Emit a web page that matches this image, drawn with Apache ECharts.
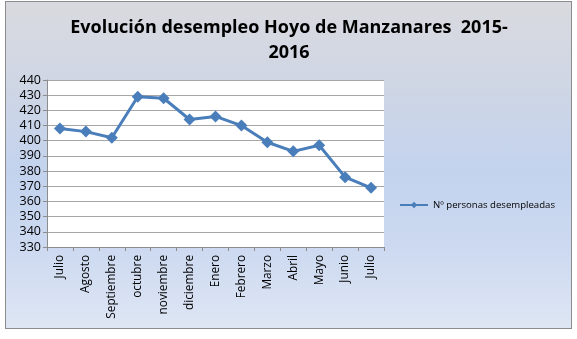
<!DOCTYPE html>
<html>
<head>
<meta charset="utf-8">
<script src="https://cdn.jsdelivr.net/npm/echarts@6/dist/echarts.min.js"></script>
<style>
html,body{margin:0;padding:0;background:#fff;}
#frame{position:absolute;left:5px;top:1px;width:565px;height:326px;border:1px solid #8c8c8c;
background:linear-gradient(to bottom,#d9dadf 0%,#cfd6e4 25%,#c3d3ee 52%,#ccd9f0 75%,#dee6f4 100%);}
#chart{position:absolute;left:0;top:0;width:577px;height:339px;}
</style>
</head>
<body>
<div id="frame"></div>
<div id="chart"></div>
<script>
const titleText = 'Evolución desempleo Hoyo de Manzanares  2015-\n2016';
const seriesName = 'Nº personas desempleadas';
const categories = ['Julio','Agosto','Septiembre','octubre','noviembre','diciembre','Enero','Febrero','Marzo','Abril','Mayo','Junio','Julio'];
const values = [408, 406, 402, 429, 428, 414, 416, 410, 399, 393, 397, 376, 369];
const yMin = 330, yMax = 440, yStep = 10;

const chart = echarts.init(document.getElementById('chart'), null, {renderer:'canvas'});
chart.setOption({
  backgroundColor: 'transparent',
  animation: false,
  title: {
    text: titleText,
    left: 284, top: 10, textAlign: 'center',
    textStyle: {fontFamily:'Open Sans', fontWeight:'bold', fontSize:18, color:'#000', lineHeight:25}
  },
  legend: {
    data: [seriesName],
    left: 394, top: 195,
    itemWidth: 28, itemHeight: 8, itemGap: 2,
    textStyle: {fontFamily:'Open Sans', fontSize:9.6, color:'#000'}
  },
  grid: {left:47, right:193, top:80, bottom:92, show:true, backgroundColor:'#fff', borderWidth:0},
  xAxis: {
    type:'category', data: categories, boundaryGap:true,
    axisLine:{show:true, lineStyle:{color:'#8c8c8c', width:1}},
    axisTick:{show:true, inside:false, length:4, lineStyle:{color:'#8c8c8c'}},
    axisLabel:{rotate:90, interval:0, margin:8, fontFamily:'Open Sans', fontSize:11.8, color:'#000'}
  },
  yAxis: {
    type:'value', min:yMin, max:yMax, interval:yStep,
    axisLine:{show:true, lineStyle:{color:'#8c8c8c'}},
    axisTick:{show:true, length:4, lineStyle:{color:'#8c8c8c'}},
    axisLabel:{fontFamily:'Open Sans', fontSize:12.5, color:'#000', margin:6},
    splitLine:{show:true, lineStyle:{color:'#a6a6a6', width:1}}
  },
  series: [{
    name: seriesName, type:'line', data: values,
    symbol:'diamond', symbolSize:12, showSymbol:true,
    lineStyle:{color:'#4a7ebb', width:3},
    itemStyle:{color:'#4a7ebb'}
  }]
});
</script>
</body>
</html>
